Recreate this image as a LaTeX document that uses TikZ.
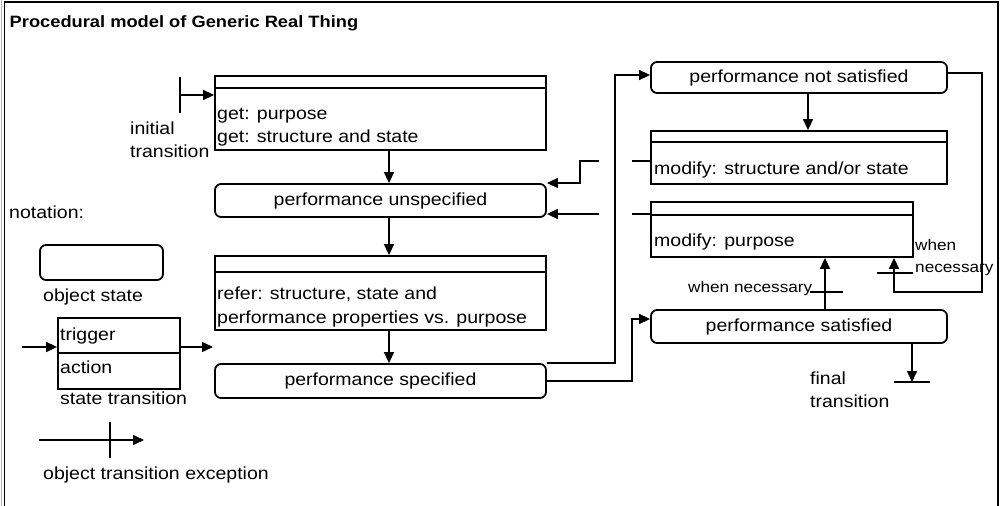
\documentclass[tikz,border=0pt]{standalone}
\usepackage{fontspec}
\setmainfont{Liberation Sans}[FakeStretch=1.115]
\usetikzlibrary{arrows.meta,calc}

\newcommand{\fsnormal}{\fontsize{17.5}{21}\selectfont}
\newcommand{\fssmall}{\fontsize{15.4}{18}\selectfont}
\newcommand{\fstitle}{\fontsize{16.4}{20}\selectfont\bfseries}

\begin{document}
\begin{tikzpicture}[x=1pt,y=-1pt,
  boxline/.style={line width=1.8pt},
  statebox/.style={draw, boxline, rounded corners=6pt, inner sep=0pt, font=\fsnormal, text height=12.5pt, text depth=3.5pt},
  actbox/.style={draw, boxline, inner sep=0pt},
  lbl/.style={anchor=west, inner sep=0pt, yshift=-1.5pt, font=\fsnormal, text height=12.5pt, text depth=3.5pt},
  slbl/.style={anchor=west, inner sep=0pt, yshift=-1pt, font=\fssmall, text height=11pt, text depth=3pt},
  conn/.style={line width=1.5pt},
  arr/.style={conn, -{Triangle[length=11pt,width=10pt]}},
  bar/.style={line width=1.5pt},
]
\clip (0,0) rectangle (1005,506);

% frame
\draw[gray!60, line width=1pt] (1.2,0) -- (1.2,520);
\draw[line width=1.8pt] (4.5,520) -- (4.5,2) -- (998,2) -- (998,520);

\node[anchor=west, inner sep=0pt, font=\fstitle, text height=12pt, text depth=3.5pt] (title) at (9.5,23) {Procedural model of Generic Real Thing};

% ---------- main column ----------
\node[actbox, minimum width=331pt, minimum height=74pt] (getbox) at (380.5,113) {};
\draw[boxline] ($(getbox.north west)+(0,13)$) -- ($(getbox.north east)+(0,13)$);
\node[lbl] (getp) at (217,113) {get: purpose};
\node[lbl] (gets) at (217,136) {get: structure and state};

\node[statebox, minimum width=331pt, minimum height=33pt] (punsp) at (380.5,200.5) {performance unspecified};

\node[actbox, minimum width=331pt, minimum height=74pt] (referbox) at (380.5,293) {};
\draw[boxline] ($(referbox.north west)+(0,17)$) -- ($(referbox.north east)+(0,17)$);
\node[lbl] (refer1) at (217,293) {refer: structure, state and};
\node[lbl] (refer2) at (217,317) {performance properties vs. purpose};

\node[statebox, minimum width=331pt, minimum height=34pt] (pspec) at (380.5,381) {performance specified};

% initial transition
\coordinate (init) at (180,95);
\draw[bar] (180,77) -- (180,113);
\draw[arr] (init) -- (init -| getbox.west);
\node[lbl] (initl1) at (130,128) {initial};
\node[lbl] (initl2) at (130,151) {transition};

\draw[arr] ([xshift=8.5pt]getbox.south) -- ([xshift=8.5pt]punsp.north);
\draw[arr] ([xshift=8.5pt]punsp.south) -- ([xshift=8.5pt]referbox.north);
\draw[arr] ([xshift=8.5pt]referbox.south) -- ([xshift=8.5pt]pspec.north);

% ---------- right column ----------
\node[statebox, minimum width=296pt, minimum height=31pt] (pnot) at (799,77.5) {performance not satisfied};

\node[actbox, minimum width=296pt, minimum height=53pt] (modst) at (799,157.5) {};
\draw[boxline] ($(modst.north west)+(0,12)$) -- ($(modst.north east)+(0,12)$);
\node[lbl] (modstl) at (654,168) {modify: structure and/or state};

\node[actbox, minimum width=262pt, minimum height=55pt] (modpu) at (782,229.5) {};
\draw[boxline] ($(modpu.north west)+(0,14)$) -- ($(modpu.north east)+(0,14)$);
\node[lbl] (modpul) at (654,240) {modify: purpose};

\node[statebox, minimum width=296pt, minimum height=33pt] (psat) at (799,326.5) {performance satisfied};

\draw[arr] ([xshift=9pt]pnot.south) -- ([xshift=9pt]pnot.south |- modst.north);

% specified -> not satisfied / satisfied
\coordinate (j1) at (615,75);
\draw[arr] (pspec.north east) -| (j1) -- (j1 -| pnot.west);
\coordinate (j2) at (632,319);
\draw[arr] (pspec.east) -| (j2) -- (j2 -| psat.west);

% modifications back to unspecified (broken where they cross)
\coordinate (r1) at (632,161);
\coordinate (r2) at (599,161);
\coordinate (r3) at (580,183);
\draw[arr] (r1 -| modst.west) -- (r1) (r2) -| (r3) -- (r3 -| punsp.east);
\coordinate (q1) at (632,214);
\coordinate (q2) at (599,214);
\draw[arr] (q1 -| modpu.west) -- (q1) (q2) -- (q2 -| punsp.east);

% not satisfied -> modify purpose (exception)
\coordinate (k1) at (982,292);
\draw[arr] ([yshift=4.5pt]pnot.east) -| (k1) -| ([xshift=112pt]modpu.south);
\draw[bar] (877,273) -- (913,273);
\node[slbl] (wn1a) at (915,245) {when};
\node[slbl] (wn1b) at (915,267) {necessary};

% satisfied -> modify purpose (exception)
\draw[arr] ([xshift=26pt]psat.north) -- ([xshift=26pt]psat.north |- modpu.south);
\draw[bar] (810,292) -- (843,292);
\node[slbl] (wn2) at (688,287) {when necessary};

% final transition
\coordinate (fin) at (912,382);
\draw[arr] (fin |- psat.south) -- (fin);
\draw[bar] (894,382) -- (930,382);
\node[lbl] (finl1) at (810,378) {final};
\node[lbl] (finl2) at (810,401) {transition};

% ---------- notation ----------
\node[lbl] (notation) at (9,212) {notation:};

\node[draw, boxline, rounded corners=6pt, minimum width=123pt, minimum height=35pt, inner sep=0pt] (objstate) at (101.5,262.5) {};
\node[lbl] (objstatel) at (43,295) {object state};

\node[actbox, minimum width=122pt, minimum height=71pt] (sttrans) at (119,353.5) {};
\draw[boxline] ($(sttrans.north west)+(0,36)$) -- ($(sttrans.north east)+(0,36)$);
\node[lbl] (trig) at (60,334) {trigger};
\node[lbl] (act) at (60,367) {action};
\node[lbl] (sttransl) at (60,398) {state transition};
\coordinate (stin) at (22,347);
\coordinate (stout) at (213,347);
\draw[arr] (stin) -- (stin -| sttrans.west);
\draw[arr] (stout -| sttrans.east) -- (stout);

\coordinate (exa) at (39,440);
\coordinate (exb) at (144,440);
\draw[arr] (exa) -- (exb);
\draw[bar] (110,422) -- (110,458);
\node[lbl] (excl) at (43,473) {object transition exception};
\end{tikzpicture}
\end{document}
